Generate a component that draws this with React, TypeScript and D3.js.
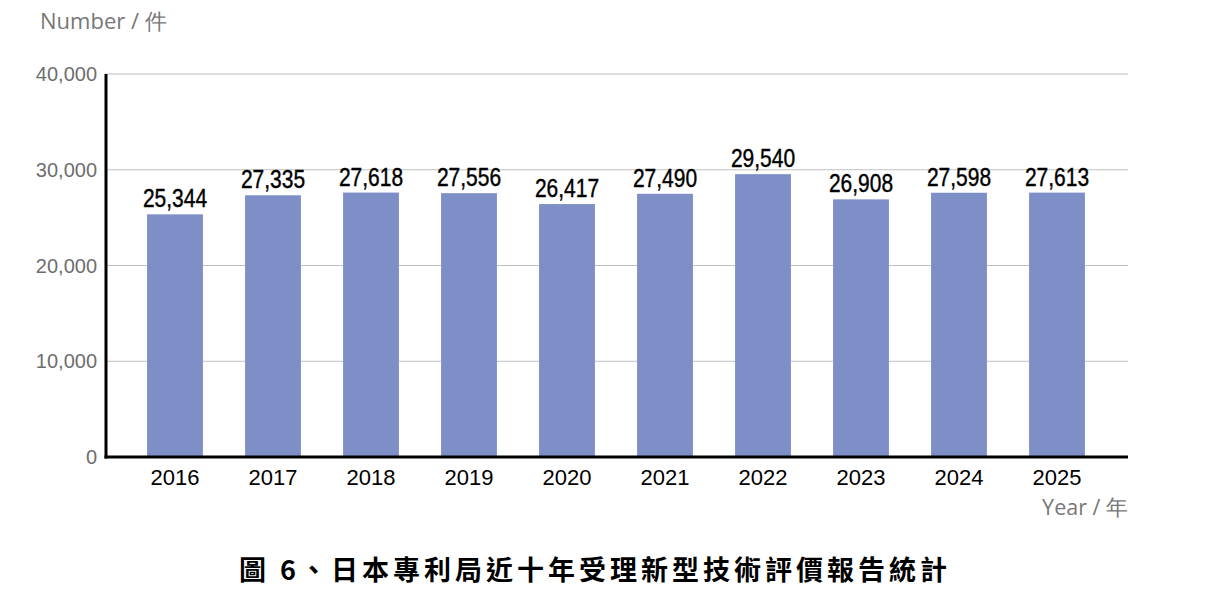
import React from "react";
import * as d3 from "d3";

const years = ["2016", "2017", "2018", "2019", "2020", "2021", "2022", "2023", "2024", "2025"];
const counts = [25344, 27335, 27618, 27556, 26417, 27490, 29540, 26908, 27598, 27613];
const yTicks = [0, 10000, 20000, 30000, 40000];
const yAxisTitle = "Number / 件";
const xAxisTitle = "Year / 年";
const chartTitle = "圖 6、日本專利局近十年受理新型技術評價報告統計";

export default function App() {
  const W = 1209, H = 614;
  const x0 = 106, x1 = 1128, yTop = 74, yBot = 457;
  const x = d3.scaleBand<string>().domain(years).range([126, 1106]).paddingInner(0.43).paddingOuter(0.215);
  const y = d3.scaleLinear().domain([0, 40000]).range([yBot, yTop]);
  const fmt = d3.format(",");
  return (
    <svg width={W} height={H} style={{ position: "absolute", left: 0, top: 0, background: "#fff" }}>
      {yTicks.map((t) => (
        <g key={t}>
          {t > 0 && <line x1={x0} x2={x1} y1={y(t)} y2={y(t)} stroke="#c0c0c0" strokeWidth={1} />}
          <text x={97} y={y(t)} dy="0.35em" textAnchor="end" fontFamily="'Liberation Sans', Arial, sans-serif" fontSize={20} fill="#6e6e6e">
            {fmt(t)}
          </text>
        </g>
      ))}
      {years.map((yr, i) => {
        const cx = x(yr)! + x.bandwidth() / 2;
        return (
          <g key={yr}>
            <rect x={x(yr)} y={y(counts[i])} width={x.bandwidth()} height={yBot - y(counts[i])} fill="#7e8fc7" />
            <g transform={`translate(${cx},${y(counts[i]) - 7}) scale(0.84,1)`}>
              <text x={0} y={0} textAnchor="middle" fontFamily="'Liberation Sans', Arial, sans-serif" fontSize={25} fill="#000" stroke="#000" strokeWidth={0.4}>
                {fmt(counts[i])}
              </text>
            </g>
            <text x={cx} y={485} textAnchor="middle" fontFamily="'Liberation Sans', Arial, sans-serif" fontSize={22} fill="#000">
              {yr}
            </text>
          </g>
        );
      })}
      <line x1={x0} x2={x0} y1={yTop} y2={yBot + 1.5} stroke="#000" strokeWidth={3} />
      <line x1={x0 - 1.5} x2={x1} y1={yBot} y2={yBot} stroke="#000" strokeWidth={3} />
      <text x={40} y={29} fontFamily="'Open Sans', 'Noto Sans', sans-serif" fontSize={22} fill="#777">{yAxisTitle}</text>
      <text x={1128} y={515} textAnchor="end" fontFamily="'Open Sans', 'Noto Sans', sans-serif" fontSize={21.5} fill="#777">{xAxisTitle}</text>
      <text x={595} y={580} textAnchor="middle" fontFamily="'Noto Sans CJK TC', sans-serif" fontWeight={700} fontSize={27} letterSpacing={4} fill="#000">{chartTitle}</text>
    </svg>
  );
}
